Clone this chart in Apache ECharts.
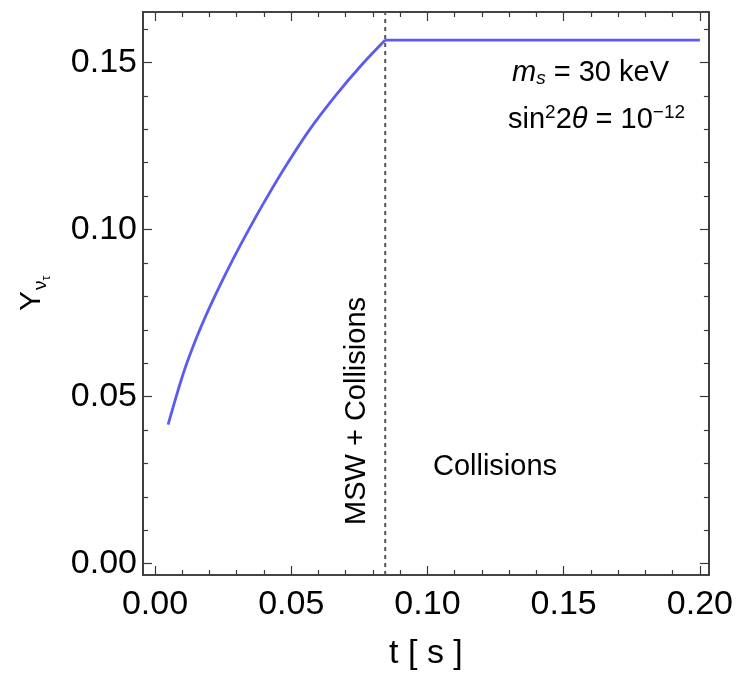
<!DOCTYPE html>
<html>
<head>
<meta charset="utf-8">
<script src="https://cdn.jsdelivr.net/npm/echarts@6/dist/echarts.min.js"></script>
<style>
  html, body { margin: 0; padding: 0; background: #fff; }
  #chart { width: 736px; height: 676px; }
</style>
</head>
<body>
<div id="chart"></div>
<script>
// rising part of the curve (MSW + collisions)
const tValues = [0.0048, 0.0103, 0.0152, 0.0200, 0.0261, 0.0310, 0.0370, 0.0420,
  0.0480, 0.0565, 0.0662, 0.0759, 0.0845];
const yValues = [0.0416, 0.0567, 0.0675, 0.0766, 0.0870, 0.0948, 0.1038, 0.1109,
  0.1190, 0.1296, 0.1400, 0.1493, 0.1567];
// flat part (collisions only)
const plateauT = [0.0845, 0.2000];
const plateauY = [0.1567, 0.1567];
const transitionTime = 0.0845;

const xMajorTicks = [0, 0.05, 0.10, 0.15, 0.20];
const xMinorTicks = [0.01, 0.02, 0.03, 0.04, 0.06, 0.07, 0.08, 0.09, 0.11, 0.12, 0.13, 0.14, 0.16, 0.17, 0.18, 0.19];
const yMajorTicks = [0, 0.05, 0.10, 0.15];
const yMinorTicks = [0.01, 0.02, 0.03, 0.04, 0.06, 0.07, 0.08, 0.09, 0.11, 0.12, 0.13, 0.14, 0.16];

const X_MIN = -0.0044, X_MAX = 0.2033;
const Y_MIN = -0.0034, Y_MAX = 0.1651;

const FONT = '"Liberation Sans", Arial, Helvetica, sans-serif';
const FRAME = '#3a3a3a';
const CURVE = '#5b5bf4';

const chart = echarts.init(document.getElementById('chart'));

function tickAxis(pos, min, max, ticks, len, labelMargin) {
  return {
    type: 'value',
    position: pos,
    min: min,
    max: max,
    axisLine: { show: true, onZero: false, lineStyle: { color: FRAME, width: 1.6 } },
    axisTick: { show: true, inside: true, length: len, customValues: ticks, lineStyle: { color: FRAME, width: 1.2 } },
    axisLabel: labelMargin != null
      ? { show: true, customValues: ticks, formatter: (v) => v.toFixed(2), fontFamily: FONT, fontSize: 34, color: '#000', margin: labelMargin }
      : { show: false },
    splitLine: { show: false },
  };
}

const xMain = tickAxis('bottom', X_MIN, X_MAX, xMajorTicks, 9, 13);
xMain.name = 't [ s ]';
xMain.nameLocation = 'middle';
xMain.nameGap = 62;
xMain.nameTextStyle = { fontFamily: FONT, fontSize: 34, color: '#000' };

const option = {
  animation: false,
  grid: { left: 143, top: 12, width: 570, height: 568, containLabel: false },
  xAxis: [
    xMain,
    tickAxis('bottom', X_MIN, X_MAX, xMinorTicks, 5),
    tickAxis('top', X_MIN, X_MAX, xMajorTicks, 9),
    tickAxis('top', X_MIN, X_MAX, xMinorTicks, 5),
  ],
  yAxis: [
    tickAxis('left', Y_MIN, Y_MAX, yMajorTicks, 9, 6),
    tickAxis('left', Y_MIN, Y_MAX, yMinorTicks, 5),
    tickAxis('right', Y_MIN, Y_MAX, yMajorTicks, 9),
    tickAxis('right', Y_MIN, Y_MAX, yMinorTicks, 5),
  ],
  series: [
    {
      type: 'line',
      data: tValues.map((t, i) => [t, yValues[i]]),
      showSymbol: false,
      smooth: 0.3,
      lineStyle: { color: CURVE, width: 2.8 },
      z: 3,
    },
    {
      type: 'line',
      data: plateauT.map((t, i) => [t, plateauY[i]]),
      showSymbol: false,
      lineStyle: { color: CURVE, width: 2.8 },
      z: 3,
    },
    {
      // boundary between the two regimes
      type: 'line',
      data: [[transitionTime, Y_MIN], [transitionTime, Y_MAX]],
      showSymbol: false,
      lineStyle: { color: '#555', width: 2, type: [4, 4] },
      z: 2,
    },
  ],
  graphic: [
    {
      type: 'text', x: 32, y: 311, rotation: Math.PI / 2,
      style: {
        text: '{y|Y}{nu|ν}{tau|τ}',
        textAlign: 'left', textVerticalAlign: 'middle',
        font: '28px ' + FONT, fill: '#000',
        rich: {
          y: { fontFamily: FONT, fontSize: 30, fill: '#000' },
          nu: { fontFamily: FONT, fontSize: 19, fill: '#000', padding: [18, 0, 0, 1] },
          tau: { fontFamily: FONT, fontSize: 12, fill: '#000', padding: [30, 0, 0, 0] },
        },
      },
    },
    {
      type: 'text', x: 512, y: 73,
      style: {
        text: '{i|m}{sub|s} = 30 keV',
        textVerticalAlign: 'middle',
        font: '29px ' + FONT, fill: '#000',
        rich: {
          i: { fontFamily: FONT, fontSize: 29, fontStyle: 'italic', fill: '#000' },
          sub: { fontFamily: FONT, fontSize: 19, fontStyle: 'italic', fill: '#000', padding: [12, 0, 0, 0] },
        },
      },
    },
    {
      type: 'text', x: 508, y: 120,
      style: {
        text: 'sin{sup|2}2{i|θ} = 10{sup|−12}',
        textVerticalAlign: 'middle',
        font: '29px ' + FONT, fill: '#000',
        rich: {
          i: { fontFamily: FONT, fontSize: 29, fontStyle: 'italic', fill: '#000' },
          sup: { fontFamily: FONT, fontSize: 19, fill: '#000', padding: [0, 0, 15, 0] },
        },
      },
    },
    {
      type: 'text', x: 495, y: 467,
      style: { text: 'Collisions', textAlign: 'center', textVerticalAlign: 'middle', font: '29px ' + FONT, fill: '#000' },
    },
    {
      type: 'text', x: 357, y: 411, rotation: Math.PI / 2,
      style: { text: 'MSW + Collisions', textAlign: 'center', textVerticalAlign: 'middle', font: '29px ' + FONT, fill: '#000' },
    },
  ],
};

chart.setOption(option);
</script>
</body>
</html>
